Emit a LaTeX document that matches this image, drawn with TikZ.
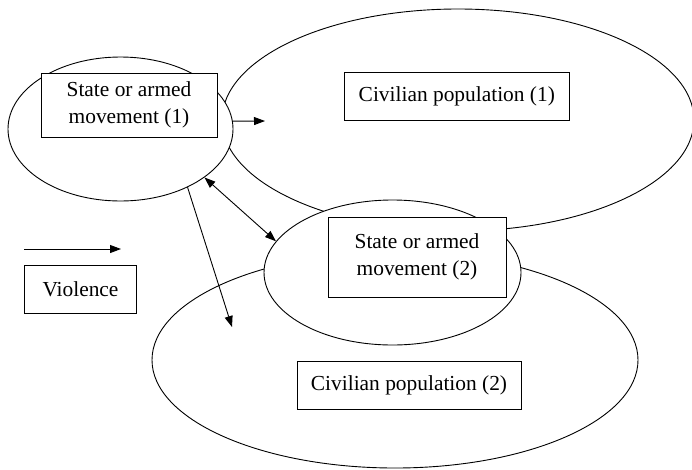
\documentclass[tikz,border=0pt]{standalone}
\usepackage{fontspec}
\setmainfont{Liberation Serif}
\usetikzlibrary{shapes.geometric,arrows.meta}

\begin{document}
\begin{tikzpicture}[x=1pt,y=-1pt,line width=0.9pt,
  oval/.style={draw,ellipse,fill=white,inner sep=0pt},
  tag/.style={draw,fill=white,rectangle,inner sep=0pt,align=center,
    font=\fontsize{21.4}{27}\selectfont},
  arr/.style={-{Triangle[length=11pt,width=8pt]}}]
\useasboundingbox (0,0) rectangle (692,469);
% the two populations and the two actors
\node [oval,minimum width=472,minimum height=222] (pop1) at (458,120) {};
\node [oval,minimum width=225,minimum height=144] (act1) at (120.5,129) {};
\node [oval,minimum width=486,minimum height=216] (pop2) at (395,360) {};
\node [oval,minimum width=257,minimum height=145] (act2) at (392.5,272.5) {};
% labels
\node [tag,minimum width=176,minimum height=64] (t1) at (129,105) {State or armed\\movement (1)};
\node [tag,minimum width=225,minimum height=48] (c1) at (456.8,96.8) {Civilian population (1)};
\node [tag,minimum width=178,minimum height=80] (t2) at (417,257) {State or armed\\movement (2)};
\node [tag,minimum width=224,minimum height=48] (c2) at (409,385) {Civilian population (2)};
% legend
\coordinate (l1) at (24,249);
\coordinate (l2) at (121,249);
\node [tag,minimum width=112,minimum height=48] (leg) at (80.5,289) {Violence};
\draw [arr] (l1) -- (l2);
% violence
\coordinate (v1) at (265,121);
\coordinate (v2) at (232,327);
\draw [arr] (act1.4) -- (v1);
\draw [{Triangle[length=11pt,width=8pt]}-{Triangle[length=11pt,width=8pt]}] (act1.-30) -- (act2.165);
\draw [arr] (act1.-41) -- (v2);
\end{tikzpicture}
\end{document}
